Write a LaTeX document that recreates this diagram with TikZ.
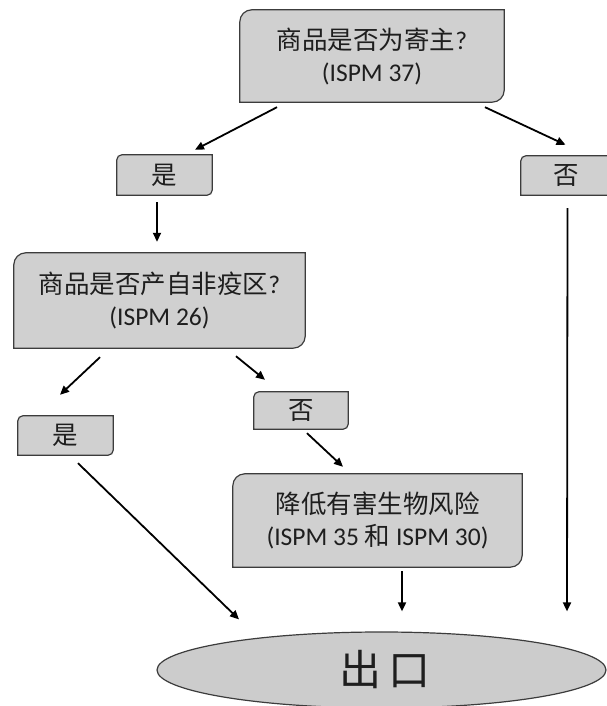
\documentclass[tikz,border=0pt]{standalone}
\usepackage{fontspec}
\setmainfont{Carlito}
\newfontfamily\cjk{Noto Sans CJK SC}
\usetikzlibrary{arrows.meta,calc,backgrounds,shapes.geometric}
\definecolor{boxfill}{RGB}{208,208,208}
\definecolor{ellfill}{RGB}{204,204,204}
\definecolor{edge}{RGB}{60,60,60}
\definecolor{ink}{RGB}{30,30,30}
\tikzset{
  dbox/.style={draw=none, inner sep=0pt, align=center, font=\fontsize{25.5}{32}\selectfont, text=ink},
  frame/.style={draw=edge, line width=1.2pt, fill=boxfill},
  arr/.style={draw=black, line width=1.8pt, -{Triangle[length=9pt,width=8pt]}},
}
\newcommand\diagframe[2]{%
  \begin{scope}[on background layer]
    \path[frame] (#1.south west) -- ([yshift=-#2]#1.north west)
      arc[start angle=180,end angle=90,radius=#2] -- (#1.north east)
      -- ([yshift=#2]#1.south east)
      arc[start angle=0,end angle=-90,radius=#2] -- cycle;
  \end{scope}}
\begin{document}
\begin{tikzpicture}[x=1pt,y=1pt]
\path[use as bounding box] (0,0) rectangle (606,706);

% boxes
\node[dbox, minimum width=264pt, minimum height=92pt] (top) at (372,650)
  {{\cjk 商品是否为寄主}?\\(ISPM 37)};
\diagframe{top}{12pt}
\node[dbox, minimum width=91pt, minimum height=39pt] (no1) at (566.5,530.5) {\cjk 否};
\diagframe{no1}{5pt}
\node[dbox, minimum width=95pt, minimum height=40pt] (yes1) at (164.5,531) {\cjk 是};
\diagframe{yes1}{5pt}
\node[dbox, minimum width=291pt, minimum height=95pt] (q2) at (159.5,405.5)
  {{\cjk 商品是否产自非疫区}?\\(ISPM 26)};
\diagframe{q2}{12pt}
\node[dbox, minimum width=95pt, minimum height=39pt] (yes2) at (65.5,270.5) {\cjk 是};
\diagframe{yes2}{5pt}
\node[dbox, minimum width=94pt, minimum height=37pt] (no2) at (301,295.5) {\cjk 否};
\diagframe{no2}{5pt}
\node[dbox, minimum width=289pt, minimum height=93pt] (risk) at (377.5,185.5)
  {{\cjk 降低有害生物风险}\\(ISPM 35 {\cjk 和} ISPM 30)};
\diagframe{risk}{12pt}

% exit ellipse
\node[ellipse, draw=edge, line width=1.2pt, fill=ellfill, inner sep=0pt,
      minimum width=449pt, minimum height=76pt, text=ink] (exit) at (381.5,36)
  {\hspace*{7pt}\fontsize{42}{42}\selectfont\cjk 出\hspace{7pt}口};

% connectors
\draw[arr] ([shift={(-95,-5)}]top.south) -- ([shift={(30.5,5)}]yes1.north);
\draw[arr] ([shift={(113,-5)}]top.south) -- ([shift={(-1,11)}]no1.north);
\draw[arr] ([shift={(-7.5,-7)}]yes1.south) -- ([shift={(-2.5,11)}]q2.north);
\draw[arr] ([shift={(-59.5,-9)}]q2.south) -- ([shift={(-5.5,21)}]yes2.north);
\draw[arr] ([shift={(76.5,-8)}]q2.south) -- ([shift={(-36,12)}]no2.north);
\draw[arr] ([shift={(6,-4)}]no2.south) -- ([shift={(-34.5,7)}]risk.north);
\draw[arr] ([shift={(24.5,-4)}]risk.south) -- ([shift={(20.5,20)}]exit.north);
\draw[arr] ([shift={(1,-13)}]no1.south) -- ([shift={(185.5,20)}]exit.north);
\draw[arr] ([shift={(12.5,-8)}]yes2.south) -- ([shift={(-142.5,12)}]exit.north);
\end{tikzpicture}
\end{document}
